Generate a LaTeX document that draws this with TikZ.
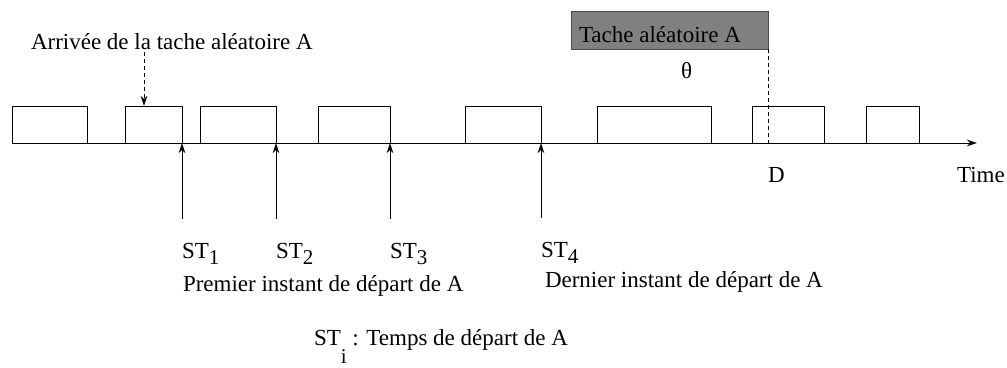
\documentclass[tikz,border=0pt]{standalone}
\usepackage{fontspec}
\setmainfont{Liberation Serif}
\usetikzlibrary{arrows.meta}
\newcommand{\lowered}[2]{\raisebox{-#1}{\fontsize{21}{24}\selectfont #2}}
\begin{document}
\begin{tikzpicture}[x=1pt,y=-1pt,
  every node/.style={inner sep=0pt,outer sep=0pt},
  lbl/.style={anchor=base west,font=\fontsize{23}{27}\selectfont},
  slot/.style={draw,line width=0.9pt,anchor=south west,minimum height=37pt},
  tip/.style={-{Stealth[length=10pt,width=6.5pt,inset=3pt]}},
  thinline/.style={line width=0.9pt},
  dashline/.style={thinline,dash pattern=on 4pt off 3pt}]
\useasboundingbox (0,0) rectangle (1007,367);

% time axis
\coordinate (t0) at (12,143);
\coordinate (tend) at (977,143);
\draw[thinline,tip] (t0) -- (tend);

% occupied slots on the time line
\node[slot,minimum width=75pt] (b1) at (12,143) {};
\node[slot,minimum width=57pt] (b2) at (125,143) {};
\node[slot,minimum width=76pt] (b3) at (200,143) {};
\node[slot,minimum width=72pt] (b4) at (318,143) {};
\node[slot,minimum width=76pt] (b5) at (465,143) {};
\node[slot,minimum width=114pt] (b6) at (597,143) {};
\node[slot,minimum width=72pt] (b7) at (752,143) {};
\node[slot,minimum width=53pt] (b8) at (866,143) {};

% arrival of the task
\node[lbl] (arr) at (31,49) {Arrivée de la tache aléatoire A};
\coordinate (arrfoot) at (144,52);
\draw[dashline,tip] (arrfoot) -- (b2.north west -| arrfoot);

% the random task and its deadline
\node[draw=black!70,fill=black!50,line width=0.9pt,anchor=north west,
  minimum width=197pt,minimum height=38pt] (task) at (571,11) {};
\node[lbl] (tasklbl) at (579,42) {Tache aléatoire A};
\node[lbl] (theta) at (681,78) {θ};
\coordinate (dl) at (task.south east |- t0);
\draw[dashline] (task.south east) -- (dl);
\node[lbl] (d) at (768,182) {D};
\node[lbl] (time) at (957,182) {Time};

% start instants
\node[lbl] (st1) at (182,258) {ST\lowered{6pt}{1}};
\node[lbl] (st2) at (276,258) {ST\lowered{6pt}{2}};
\node[lbl] (st3) at (390,258) {ST\lowered{6pt}{3}};
\node[lbl] (st4) at (541,257) {ST\lowered{6pt}{4}};
\foreach \s/\b in {st1/b2,st2/b3,st3/b4,st4/b5}
  \draw[thinline,tip] ([yshift=39pt]\s.base west) -- (\b.south east);

\node[lbl] (first) at (183,291) {Premier instant de départ de A};
\node[lbl] (last) at (545,287) {Dernier instant de départ de A};
\node[lbl] (legend) at (314,345) {ST\lowered{18pt}{i} : Temps de départ de A};
\end{tikzpicture}
\end{document}
